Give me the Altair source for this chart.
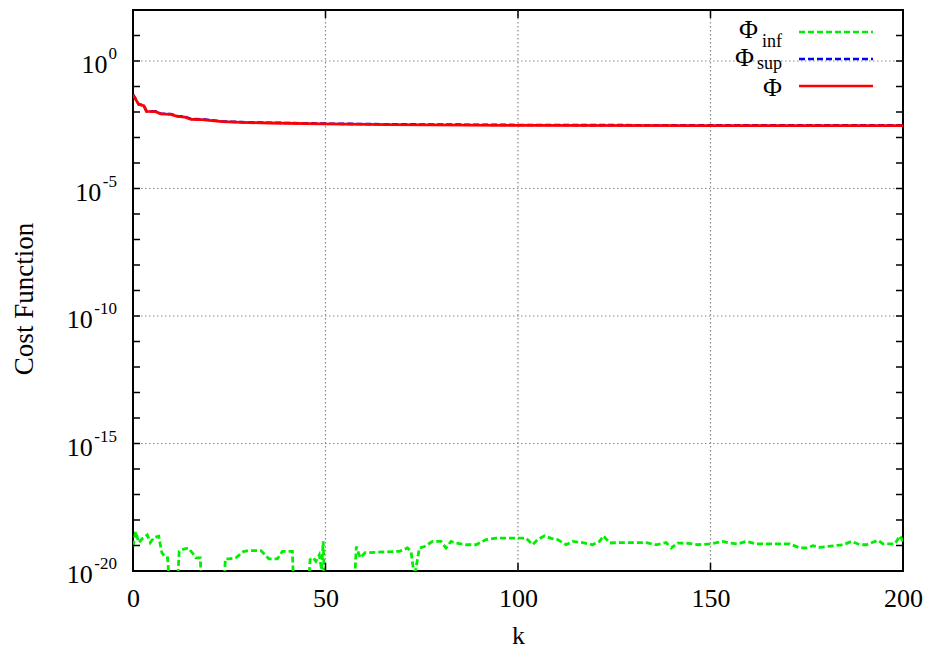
import altair as alt
import pandas as pd

# ---------------- data ----------------
k_phi = [0, 1.5, 2.8, 3.5, 5.9, 7.2, 9.8, 11.5, 13.5, 15.1, 17.9, 23.1, 28.3, 35.3, 49.5, 66.5, 100, 150, 200]
phi = [0.048, 0.0195, 0.0178, 0.0105, 0.0103, 0.0085, 0.0081, 0.0068, 0.0063, 0.0051, 0.005, 0.0042,
       0.0039, 0.0037, 0.0034, 0.0032, 0.003, 0.0029, 0.0029]

k_sup = [0, 1.5, 2.8, 3.5, 5.9, 7.2, 9.8, 11.5, 13.5, 15.1, 17.9, 23.1, 28.3, 35.3, 49.5, 66.5, 100, 150, 200]
phi_sup = [0.049, 0.02, 0.0182, 0.0108, 0.0106, 0.0087, 0.0083, 0.007, 0.0065, 0.0053, 0.0052, 0.0043,
           0.004, 0.0038, 0.0035, 0.0033, 0.0031, 0.003, 0.003]

k_inf = [0, 0.7, 1.5, 2.5, 3.7, 4.5, 5.5, 6.7, 7.5, 8.5, 9, 10, 11, 12, 12.8, 14.3, 15.4, 16.3, 17.5, 18,
         23, 24, 25, 26.7, 28.8, 30.5, 33.2, 35.3, 37.5, 38.8, 41.4, 42, 45, 46, 46.8, 47.5, 48.4, 49, 49.4,
         50, 57, 58, 59, 60.3, 69.2, 71.3, 72.2, 73.1, 74.4, 75.7, 77.8, 80, 81.3, 82.6, 83.9, 86.5, 89.1,
         91.7, 94.3, 97.8, 100.4, 102.1, 103.8, 105.1, 106.9, 108.6, 110.3, 112.5, 114.2, 116.8, 119.4,
         121.2, 122.2, 123.8, 126.4, 129.8, 133.3, 135.9, 138.5, 139.8, 141.5, 143.7, 146.7, 149.8, 153.2,
         155, 157.1, 159.3, 161.9, 170.6, 173.2, 174.9, 176.6, 178.4, 184.5, 186.6, 188.8, 190.5, 193.5,
         194.8, 197.9, 199.2, 200]
phi_inf = [9.1e-20, 3.5e-19, 1.3e-19, 1.9e-19, 2.6e-19, 1.3e-19, 2.1e-19, 2.3e-19, 5.2e-20, 3.3e-20, 3.3e-20,
           1e-22, 1e-22, 5.9e-20, 6.9e-20, 8e-20, 5.2e-20, 3.3e-20, 3.3e-20, 1e-22,
           1e-22, 3.0e-20, 3.0e-20, 3.3e-20, 5.9e-20, 6.3e-20, 6.3e-20, 3.0e-20, 3.0e-20, 5.9e-20, 5.9e-20,
           1e-22, 1e-22, 2.8e-20, 3.3e-20, 2.4e-20, 4.3e-20, 1.1e-20, 1.45e-19,
           1e-22, 1e-22, 9.1e-20, 3.3e-20, 5.2e-20, 5.9e-20, 8e-20, 5.9e-20, 6e-21, 8e-20, 9.1e-20, 1.45e-19,
           1.45e-19, 8e-20, 1.45e-19, 1.25e-19, 1.07e-19, 1.07e-19,
           1.7e-19, 1.95e-19, 1.95e-19, 1.95e-19, 1.95e-19, 1.07e-19, 1.7e-19, 2.4e-19, 1.9e-19, 1.7e-19,
           1.07e-19, 1.45e-19, 1.3e-19, 1.07e-19,
           1.45e-19, 2.4e-19, 1.25e-19, 1.3e-19, 1.3e-19, 1.3e-19, 1.07e-19, 1.3e-19, 8e-20, 1.25e-19,
           1.25e-19, 1.07e-19, 1.15e-19, 1.45e-19,
           1.25e-19, 1.15e-19, 1.45e-19, 1.15e-19, 1.15e-19, 8e-20, 8e-20, 9.8e-20, 8.5e-20, 1.07e-19,
           1.45e-19, 1.07e-19, 1.07e-19, 1.6e-19,
           1.15e-19, 1.15e-19, 2.4e-19, 1.45e-19]

x_tick_values = [0, 50, 100, 150, 200]
x_grid_values = [50, 100, 150]
y_label_values = [1e0, 1e-5, 1e-10, 1e-15, 1e-20]
y_label_base = ["10", "10", "10", "10", "10"]
y_label_exp = ["0", "-5", "-10", "-15", "-20"]
y_grid_values = [1e0, 1e-5, 1e-10, 1e-15]
y_tick_values = [1e1, 1e0, 1e-1, 1e-2, 1e-3, 1e-4, 1e-5, 1e-6, 1e-7, 1e-8, 1e-9, 1e-10, 1e-11, 1e-12,
                 1e-13, 1e-14, 1e-15, 1e-16, 1e-17, 1e-18, 1e-19]

legend_names = ["Φ", "Φ", "Φ"]
legend_subs = ["inf", "sup", ""]

# ---------------- styling ----------------
W, H = 770, 561
FONT = "Liberation Serif"
GREEN, BLUE, RED = "#00ee00", "#0000ff", "#ff0000"
BASE_FS, EXP_FS = 26, 17

xs = alt.Scale(domain=[0, 200], nice=False, zero=False)
ys = alt.Scale(type="log", domain=[1e-20, 1e2], nice=False)

x_axis = alt.Axis(values=x_tick_values, title="k", format="d", labelFlush=False, labelOverlap=False,
                  ticks=False, domain=False, grid=False, labelPadding=14,
                  titleY=72, titleBaseline="alphabetic")
y_axis = alt.Axis(values=y_label_values, labels=False, title="Cost Function",
                  ticks=False, domain=False, grid=False,
                  titleX=-101, titleY=H / 2 + 8, titleBaseline="alphabetic", titleAngle=-90,
                  titleFontSize=27)


def X(field):
    return alt.X(f"{field}:Q", scale=xs, axis=x_axis, title="k")


def Y(field):
    return alt.Y(f"{field}:Q", scale=ys, axis=y_axis, title="Cost Function")


layers = []

# grid
layers.append(
    alt.Chart(pd.DataFrame({"k": x_grid_values})).mark_rule(
        color="#8a8a8a", strokeWidth=1.2, strokeDash=[1.5, 2.5]
    ).encode(x=X("k"), y=alt.value(0), y2=alt.value(H))
)
layers.append(
    alt.Chart(pd.DataFrame({"v": y_grid_values})).mark_rule(
        color="#8a8a8a", strokeWidth=1.2, strokeDash=[1.5, 2.5]
    ).encode(y=Y("v"), x=alt.value(0), x2=alt.value(W))
)


# series
def series(k, v, color, dash, width):
    df = pd.DataFrame({"k": k, "v": v})
    mk = dict(color=color, strokeWidth=width, clip=True)
    if dash:
        mk["strokeDash"] = dash
    return alt.Chart(df).mark_line(**mk).encode(x=X("k"), y=Y("v"), order="k:Q")


layers.append(series(k_inf, phi_inf, GREEN, [6, 3], 2.8))
layers.append(series(k_sup, phi_sup, BLUE, [6, 3], 2.6))
layers.append(series(k_phi, phi, RED, None, 2.8))

# inward ticks
ytick_df = pd.DataFrame({"v": y_tick_values})
for x0, x1 in [(0, 7), (W - 7, W)]:
    layers.append(
        alt.Chart(ytick_df).mark_rule(color="black", strokeWidth=1.5).encode(
            y=Y("v"), x=alt.value(x0), x2=alt.value(x1))
    )
xtick_df = pd.DataFrame({"k": x_tick_values})
for y0, y1 in [(H - 8, H), (0, 8)]:
    layers.append(
        alt.Chart(xtick_df).mark_rule(color="black", strokeWidth=1.5).encode(
            x=X("k"), y=alt.value(y0), y2=alt.value(y1))
    )

# y tick labels: "10" with a raised exponent
lab_df = pd.DataFrame({"v": y_label_values, "base": y_label_base, "e": y_label_exp})
layers.append(
    alt.Chart(lab_df).mark_text(
        align="right", baseline="alphabetic", font=FONT, fontSize=EXP_FS, color="black", dy=-2
    ).encode(y=Y("v"), x=alt.value(-16), text="e:N")
)
layers.append(
    alt.Chart(lab_df).transform_calculate(
        px="-17 - (length(datum.e) * 8.6 - (indexof(datum.e, '-') >= 0 ? 2.5 : 0))"
    ).mark_text(
        align="right", baseline="alphabetic", font=FONT, fontSize=BASE_FS, color="black", dy=12
    ).encode(y=Y("v"), x=alt.X("px:Q", scale=None), text="base:N")
)

# legend (inside, top right)
one = pd.DataFrame({"a": [0]})
leg_rows = [
    (GREEN, [6, 3], 22, 625, 28, 649, 37),
    (BLUE, [6, 3], 49, 621, 56, 649, 59),
    (RED, None, 76, 649, 86, 649, 86),
]
for (col, dash, ly, phx, phy, sbx, sby), name, sub in zip(leg_rows, legend_names, legend_subs):
    mk = dict(color=col, strokeWidth=2.6)
    if dash:
        mk["strokeDash"] = dash
    layers.append(alt.Chart(one).mark_rule(**mk).encode(
        x=alt.value(666), x2=alt.value(740), y=alt.value(ly)))
    layers.append(alt.Chart(one).mark_text(
        align="right", baseline="alphabetic", font=FONT, fontSize=26, color="black", text=name
    ).encode(x=alt.value(phx), y=alt.value(phy)))
    if sub:
        layers.append(alt.Chart(one).mark_text(
            align="right", baseline="alphabetic", font=FONT, fontSize=18, color="black", text=sub
        ).encode(x=alt.value(sbx), y=alt.value(sby)))

chart = alt.layer(*layers).properties(
    width=W, height=H,
    autosize=alt.AutoSizeParams(type="none"),
    padding={"left": 125, "top": 2, "right": 21, "bottom": 80},
).configure_view(
    stroke="black", strokeWidth=2
).configure_axis(
    labelFont=FONT, labelFontSize=26, labelColor="black",
    titleFont=FONT, titleFontSize=26, titleFontWeight="normal", titleColor="black",
)

chart.save("out.html", embed_options={"renderer": "svg", "actions": False})
